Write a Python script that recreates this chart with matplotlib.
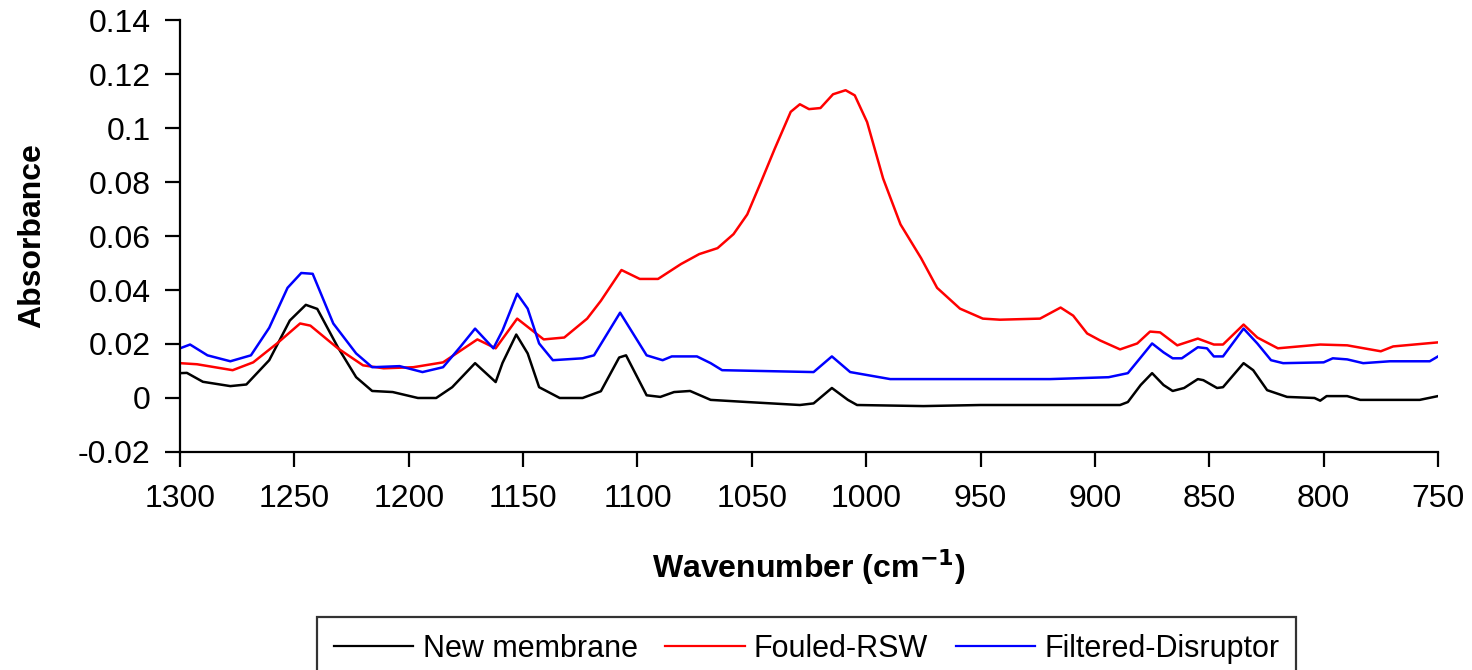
import matplotlib.pyplot as plt

plt.rcParams["font.family"] = ["Liberation Sans", "DejaVu Sans"]

# wavenumber (cm-1) and absorbance
wn_new = [1300, 1297, 1290, 1278, 1271, 1261, 1252, 1245, 1240, 1231, 1223,
          1216, 1207, 1196, 1188, 1181, 1171, 1162, 1159, 1153, 1148, 1143,
          1134, 1124, 1116, 1108, 1105, 1096, 1090, 1084, 1077, 1068, 1052,
          1029, 1023, 1015, 1008, 1004, 975, 950, 920, 889, 885.6, 880, 875,
          870, 866, 861, 855, 852.6, 846.6, 844, 835, 830.8, 824.7, 816, 804,
          801.5, 798.7, 789.7, 784, 770, 758, 750]
abs_new = [0.0092, 0.0093, 0.0060, 0.0044, 0.0050, 0.0140, 0.0287, 0.0345,
           0.0330, 0.0188, 0.0077, 0.0026, 0.0022, 0.0000, 0.0000, 0.0040,
           0.0129, 0.0059, 0.0130, 0.0235, 0.0165, 0.0040, 0.0000, 0.0000,
           0.0025, 0.0150, 0.0158, 0.0010, 0.0004, 0.0022, 0.0026, -0.0007,
           -0.0015, -0.0026, -0.0020, 0.0037, -0.0007, -0.0026, -0.0030,
           -0.0026, -0.0026, -0.0026, -0.0015, 0.0048, 0.0092, 0.0048,
           0.0026, 0.0037, 0.0070, 0.0066, 0.0037, 0.0040, 0.0129, 0.0103,
           0.0029, 0.0004, 0.0000, -0.0010, 0.0007, 0.0007, -0.0007, -0.0007,
           -0.0007, 0.0007]

wn_fouled = [1300, 1292.6, 1277, 1268, 1257.6, 1247.5, 1243, 1231, 1220, 1211,
             1198, 1185, 1170, 1162, 1152.6, 1141, 1132, 1122, 1116, 1107,
             1099, 1091, 1081, 1073, 1065, 1058, 1052, 1046, 1040, 1033, 1029,
             1025, 1020, 1014.5, 1009, 1005, 999.6, 992.6, 985, 976, 969, 959,
             949, 941.5, 924, 915, 909.5, 903.4, 897.7, 889, 881.5, 875.9,
             871.5, 864, 855, 848, 844, 835, 829, 820, 801.5, 789.7, 775,
             769.6, 750]
abs_fouled = [0.0129, 0.0125, 0.0103, 0.0132, 0.0202, 0.0276, 0.0268, 0.0184,
              0.0121, 0.0110, 0.0114, 0.0132, 0.0217, 0.0184, 0.0294, 0.0217,
              0.0224, 0.0294, 0.0360, 0.0474, 0.0441, 0.0441, 0.0496, 0.0533,
              0.0555, 0.0607, 0.0680, 0.0800, 0.0923, 0.1060, 0.1088, 0.1070,
              0.1074, 0.1125, 0.1140, 0.1121, 0.1022, 0.0813, 0.0643, 0.0518,
              0.0408, 0.0331, 0.0294, 0.0290, 0.0294, 0.0335, 0.0305, 0.0239,
              0.0213, 0.0180, 0.0202, 0.0246, 0.0243, 0.0195, 0.0220, 0.0198,
              0.0198, 0.0272, 0.0224, 0.0184, 0.0198, 0.0195, 0.0173, 0.0191,
              0.0206]

wn_filtered = [1300, 1295.6, 1288, 1278, 1269, 1261, 1253, 1247, 1242, 1233,
               1223, 1216, 1204, 1194, 1185, 1177.6, 1171, 1163, 1159, 1152.6,
               1148, 1143, 1137, 1124, 1119, 1107.6, 1096, 1089, 1085, 1074,
               1068, 1063, 1023, 1015, 1007, 999.6, 989.5, 919.6, 912, 894,
               885.6, 880, 875, 870, 866, 862, 855, 851, 848, 844, 835, 829,
               823, 817.7, 800, 796, 789.7, 782.7, 771, 753.6, 750]
abs_filtered = [0.0184, 0.0198, 0.0158, 0.0136, 0.0158, 0.0260, 0.0408,
                0.0463, 0.0460, 0.0276, 0.0165, 0.0114, 0.0118, 0.0096,
                0.0114, 0.0188, 0.0257, 0.0184, 0.0250, 0.0386, 0.0331,
                0.0202, 0.0140, 0.0147, 0.0158, 0.0316, 0.0158, 0.0140,
                0.0154, 0.0154, 0.0129, 0.0103, 0.0096, 0.0154, 0.0096,
                0.0085, 0.0070, 0.0070, 0.0072, 0.0077, 0.0092, 0.0150,
                0.0202, 0.0169, 0.0147, 0.0147, 0.0188, 0.0184, 0.0154,
                0.0154, 0.0257, 0.0202, 0.0140, 0.0129, 0.0132, 0.0147,
                0.0143, 0.0129, 0.0136, 0.0136, 0.0154]

labels = ["New membrane", "Fouled-RSW", "Filtered-Disruptor"]
xticks = [1300, 1250, 1200, 1150, 1100, 1050, 1000, 950, 900, 850, 800, 750]
yticks = [-0.02, 0, 0.02, 0.04, 0.06, 0.08, 0.1, 0.12, 0.14]
ytick_labels = ["-0.02", "0", "0.02", "0.04", "0.06", "0.08", "0.1", "0.12", "0.14"]

fig = plt.figure(figsize=(14.72, 6.70), dpi=100)
ax = fig.add_axes([0.1223, 0.3254, 0.8546, 0.6447])

ax.plot(wn_new, abs_new, color="black", lw=1.8, label=labels[0])
ax.plot(wn_fouled, abs_fouled, color="red", lw=1.8, label=labels[1])
ax.plot(wn_filtered, abs_filtered, color="blue", lw=1.8, label=labels[2])

ax.set_xlim(1300, 750)
ax.set_ylim(-0.02, 0.14)
ax.set_xticks(xticks)
ax.set_xticklabels([str(t) for t in xticks])
ax.set_yticks(yticks)
ax.set_yticklabels(ytick_labels)

for side in ["top", "right"]:
    ax.spines[side].set_visible(False)
for side in ["left", "bottom"]:
    ax.spines[side].set_linewidth(1.6)
ax.tick_params(direction="out", length=11, width=1.6, labelsize=23)
ax.tick_params(axis="y", pad=10)
ax.tick_params(axis="x", pad=12)

ax.set_xlabel("Wavenumber (cm$^{\\mathbf{-1}}$)", fontsize=23, fontweight="bold", labelpad=24)
ax.set_ylabel("Absorbance", fontsize=23, fontweight="bold", labelpad=22)

leg = fig.legend(loc="upper center", bbox_to_anchor=(0.548, 0.079), ncol=3,
                 fontsize=22, frameon=True, fancybox=False, edgecolor="black",
                 handlelength=2.6, handletextpad=0.3, columnspacing=0.9,
                 borderpad=0.55, borderaxespad=0)
leg.get_frame().set_linewidth(1.6)
for line in leg.get_lines():
    line.set_linewidth(1.6)

fig.savefig("out.png", dpi=100)
